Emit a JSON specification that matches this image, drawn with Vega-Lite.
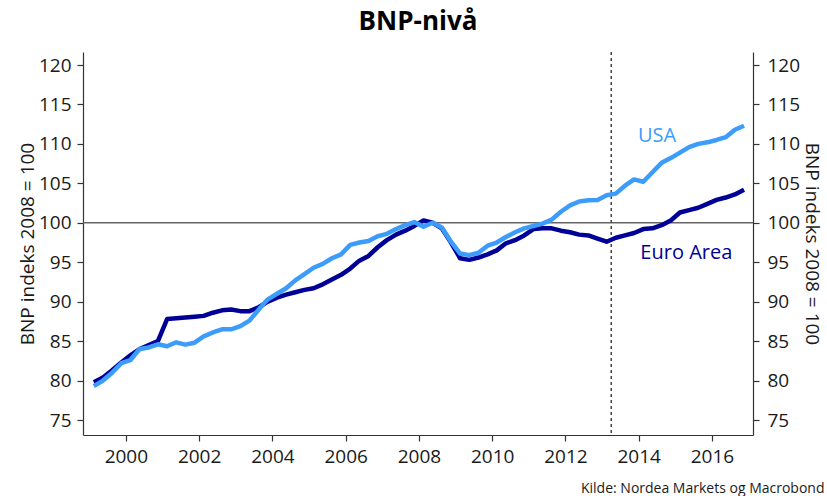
{
  "$schema": "https://vega.github.io/schema/vega-lite/v6.json",
  "width": 670,
  "height": 383,
  "autosize": {"type": "none"},
  "padding": {"left": 83, "top": 52, "right": 74, "bottom": 61},
  "background": "white",
  "config": {
    "font": "Open Sans",
    "view": {"stroke": null},
    "axis": {"grid": false, "domainColor": "#333333", "tickColor": "#333333", "labelColor": "#1a1a1a", "titleColor": "#1a1a1a", "labelFontSize": 19, "tickSize": 6, "domainWidth": 1.2, "tickWidth": 1.2, "titleFontWeight": "normal", "titleFontSize": 19}
  },
  "title": {"text": "BNP-nivå", "fontSize": 26, "fontWeight": "bold", "color": "#000000", "anchor": "middle", "offset": 16},
  "datasets": {
    "euro": [
      {"date": 1999.125, "value": 79.8}, {"date": 1999.375, "value": 80.4}, {"date": 1999.625, "value": 81.3}, {"date": 1999.875, "value": 82.3},
      {"date": 2000.125, "value": 83.2}, {"date": 2000.375, "value": 84.0}, {"date": 2000.625, "value": 84.5}, {"date": 2000.875, "value": 85.0},
      {"date": 2001.125, "value": 87.8}, {"date": 2001.375, "value": 87.9}, {"date": 2001.625, "value": 88.0}, {"date": 2001.875, "value": 88.1},
      {"date": 2002.125, "value": 88.2}, {"date": 2002.375, "value": 88.6}, {"date": 2002.625, "value": 88.9}, {"date": 2002.875, "value": 89.0},
      {"date": 2003.125, "value": 88.8}, {"date": 2003.375, "value": 88.8}, {"date": 2003.625, "value": 89.3}, {"date": 2003.875, "value": 90.0},
      {"date": 2004.125, "value": 90.5}, {"date": 2004.375, "value": 90.9}, {"date": 2004.625, "value": 91.2}, {"date": 2004.875, "value": 91.5},
      {"date": 2005.125, "value": 91.7}, {"date": 2005.375, "value": 92.2}, {"date": 2005.625, "value": 92.8}, {"date": 2005.875, "value": 93.4},
      {"date": 2006.125, "value": 94.2}, {"date": 2006.375, "value": 95.2}, {"date": 2006.625, "value": 95.8}, {"date": 2006.875, "value": 96.9},
      {"date": 2007.125, "value": 97.8}, {"date": 2007.375, "value": 98.5}, {"date": 2007.625, "value": 99.0}, {"date": 2007.875, "value": 99.6},
      {"date": 2008.125, "value": 100.3}, {"date": 2008.375, "value": 100.0}, {"date": 2008.625, "value": 99.3}, {"date": 2008.875, "value": 97.5},
      {"date": 2009.125, "value": 95.5}, {"date": 2009.375, "value": 95.3}, {"date": 2009.625, "value": 95.6}, {"date": 2009.875, "value": 96.0},
      {"date": 2010.125, "value": 96.5}, {"date": 2010.375, "value": 97.4}, {"date": 2010.625, "value": 97.8}, {"date": 2010.875, "value": 98.4},
      {"date": 2011.125, "value": 99.2}, {"date": 2011.375, "value": 99.3}, {"date": 2011.625, "value": 99.3}, {"date": 2011.875, "value": 99.0},
      {"date": 2012.125, "value": 98.8}, {"date": 2012.375, "value": 98.5}, {"date": 2012.625, "value": 98.4}, {"date": 2012.875, "value": 98.0},
      {"date": 2013.125, "value": 97.6}, {"date": 2013.375, "value": 98.1}, {"date": 2013.625, "value": 98.4}, {"date": 2013.875, "value": 98.7},
      {"date": 2014.125, "value": 99.2}, {"date": 2014.375, "value": 99.3}, {"date": 2014.625, "value": 99.7}, {"date": 2014.875, "value": 100.3},
      {"date": 2015.125, "value": 101.3}, {"date": 2015.375, "value": 101.6}, {"date": 2015.625, "value": 101.9}, {"date": 2015.875, "value": 102.4},
      {"date": 2016.125, "value": 102.9}, {"date": 2016.375, "value": 103.2}, {"date": 2016.625, "value": 103.6}, {"date": 2016.875, "value": 104.2}
    ],
    "usa": [
      {"date": 1999.125, "value": 79.3}, {"date": 1999.375, "value": 80.0}, {"date": 1999.625, "value": 81.0}, {"date": 1999.875, "value": 82.2},
      {"date": 2000.125, "value": 82.6}, {"date": 2000.375, "value": 84.0}, {"date": 2000.625, "value": 84.2}, {"date": 2000.875, "value": 84.6},
      {"date": 2001.125, "value": 84.35}, {"date": 2001.375, "value": 84.85}, {"date": 2001.625, "value": 84.55}, {"date": 2001.875, "value": 84.8},
      {"date": 2002.125, "value": 85.6}, {"date": 2002.375, "value": 86.1}, {"date": 2002.625, "value": 86.5}, {"date": 2002.875, "value": 86.5},
      {"date": 2003.125, "value": 86.9}, {"date": 2003.375, "value": 87.6}, {"date": 2003.625, "value": 89.0}, {"date": 2003.875, "value": 90.3},
      {"date": 2004.125, "value": 91.0}, {"date": 2004.375, "value": 91.7}, {"date": 2004.625, "value": 92.7}, {"date": 2004.875, "value": 93.5},
      {"date": 2005.125, "value": 94.3}, {"date": 2005.375, "value": 94.8}, {"date": 2005.625, "value": 95.5}, {"date": 2005.875, "value": 96.0},
      {"date": 2006.125, "value": 97.2}, {"date": 2006.375, "value": 97.5}, {"date": 2006.625, "value": 97.7}, {"date": 2006.875, "value": 98.3},
      {"date": 2007.125, "value": 98.6}, {"date": 2007.375, "value": 99.2}, {"date": 2007.625, "value": 99.7}, {"date": 2007.875, "value": 100.1},
      {"date": 2008.125, "value": 99.5}, {"date": 2008.375, "value": 100.0}, {"date": 2008.625, "value": 99.4}, {"date": 2008.875, "value": 97.6},
      {"date": 2009.125, "value": 96.1}, {"date": 2009.375, "value": 95.9}, {"date": 2009.625, "value": 96.2}, {"date": 2009.875, "value": 97.1},
      {"date": 2010.125, "value": 97.5}, {"date": 2010.375, "value": 98.2}, {"date": 2010.625, "value": 98.8}, {"date": 2010.875, "value": 99.3},
      {"date": 2011.125, "value": 99.6}, {"date": 2011.375, "value": 99.9}, {"date": 2011.625, "value": 100.4}, {"date": 2011.875, "value": 101.4},
      {"date": 2012.125, "value": 102.2}, {"date": 2012.375, "value": 102.7}, {"date": 2012.625, "value": 102.85}, {"date": 2012.875, "value": 102.9},
      {"date": 2013.125, "value": 103.5}, {"date": 2013.375, "value": 103.7}, {"date": 2013.625, "value": 104.7}, {"date": 2013.875, "value": 105.5},
      {"date": 2014.125, "value": 105.2}, {"date": 2014.375, "value": 106.4}, {"date": 2014.625, "value": 107.6}, {"date": 2014.875, "value": 108.2},
      {"date": 2015.125, "value": 108.9}, {"date": 2015.375, "value": 109.6}, {"date": 2015.625, "value": 110.0}, {"date": 2015.875, "value": 110.2},
      {"date": 2016.125, "value": 110.5}, {"date": 2016.375, "value": 110.85}, {"date": 2016.625, "value": 111.8}, {"date": 2016.875, "value": 112.3}
    ]
  },
  "layer": [
    {
      "data": {"values": [{"value": 100}]},
      "mark": {"type": "rule", "color": "#666666", "strokeWidth": 1.5},
      "encoding": {
        "y": {"field": "value", "type": "quantitative", "scale": {"domain": [73.1, 121.65], "nice": false, "zero": false}, "axis": null}
      }
    },
    {
      "data": {"values": [{"date": 2013.25}]},
      "mark": {"type": "rule", "color": "#444444", "strokeWidth": 1.5, "strokeDash": [3, 3]},
      "encoding": {
        "x": {"field": "date", "type": "quantitative", "scale": {"domain": [1998.83, 2017.12], "nice": false, "zero": false},
          "axis": {"values": [2000, 2002, 2004, 2006, 2008, 2010, 2012, 2014, 2016], "format": "d", "labelPadding": 6, "title": "Kilde: Nordea Markets og Macrobond", "titleX": 741, "titleY": 57, "titleAlign": "right", "titleBaseline": "alphabetic", "titleFontSize": 14, "titleAnchor": null}}
      }
    },
    {
      "data": {"name": "euro"},
      "mark": {"type": "line", "color": "#000096", "strokeWidth": 4.5, "strokeJoin": "round"},
      "encoding": {
        "x": {"field": "date", "type": "quantitative", "scale": {"domain": [1998.83, 2017.12], "nice": false, "zero": false},
          "axis": {"values": [2000, 2002, 2004, 2006, 2008, 2010, 2012, 2014, 2016], "format": "d", "labelPadding": 6, "title": "Kilde: Nordea Markets og Macrobond", "titleX": 741, "titleY": 57, "titleAlign": "right", "titleBaseline": "alphabetic", "titleFontSize": 14, "titleAnchor": null}},
        "y": {"field": "value", "type": "quantitative", "scale": {"domain": [73.1, 121.65], "nice": false, "zero": false},
          "axis": {"orient": "right", "values": [75, 80, 85, 90, 95, 100, 105, 110, 115, 120], "labelPadding": 8, "title": "BNP indeks 2008 = 100", "titleAngle": 90, "titleX": 52, "titleY": 191.5, "titleAlign": "center", "titleBaseline": "alphabetic"}}
      }
    },
    {
      "data": {"name": "usa"},
      "mark": {"type": "line", "color": "#3c9cfc", "strokeWidth": 4.5, "strokeJoin": "round"},
      "encoding": {
        "x": {"field": "date", "type": "quantitative", "scale": {"domain": [1998.83, 2017.12], "nice": false, "zero": false},
          "axis": {"values": [2000, 2002, 2004, 2006, 2008, 2010, 2012, 2014, 2016], "format": "d", "labelPadding": 6, "title": "Kilde: Nordea Markets og Macrobond", "titleX": 741, "titleY": 57, "titleAlign": "right", "titleBaseline": "alphabetic", "titleFontSize": 14, "titleAnchor": null}},
        "y": {"field": "value", "type": "quantitative", "scale": {"domain": [73.1, 121.65], "nice": false, "zero": false},
          "axis": {"orient": "left", "values": [75, 80, 85, 90, 95, 100, 105, 110, 115, 120], "labelPadding": 6, "title": "BNP indeks 2008 = 100", "titleAngle": -90, "titleX": -50, "titleY": 191.5, "titleAlign": "center", "titleBaseline": "alphabetic"}}
      }
    },
    {
      "data": {"values": [
        {"date": 2014.5, "value": 111.0, "label": "USA", "series": "USA"},
        {"date": 2015.3, "value": 96.2, "label": "Euro Area", "series": "Euro Area"}
      ]},
      "mark": {"type": "text", "fontSize": 20, "align": "center", "baseline": "middle"},
      "encoding": {
        "x": {"field": "date", "type": "quantitative", "scale": {"domain": [1998.83, 2017.12], "nice": false, "zero": false},
          "axis": {"values": [2000, 2002, 2004, 2006, 2008, 2010, 2012, 2014, 2016], "format": "d", "labelPadding": 6, "title": "Kilde: Nordea Markets og Macrobond", "titleX": 741, "titleY": 57, "titleAlign": "right", "titleBaseline": "alphabetic", "titleFontSize": 14, "titleAnchor": null}},
        "y": {"field": "value", "type": "quantitative", "scale": {"domain": [73.1, 121.65], "nice": false, "zero": false}, "axis": null},
        "text": {"field": "label"},
        "color": {"field": "series", "type": "nominal", "scale": {"domain": ["USA", "Euro Area"], "range": ["#3c9cfc", "#000096"]}, "legend": null}
      }
    }
  ],
  "resolve": {"axis": {"y": "independent"}}
}
